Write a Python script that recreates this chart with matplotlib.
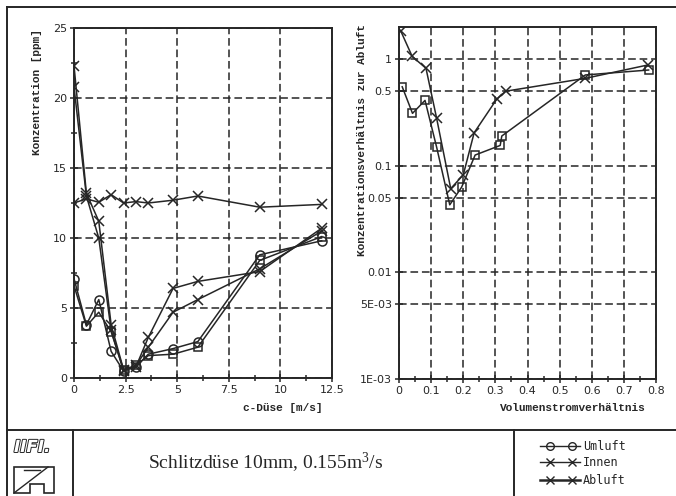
import matplotlib
matplotlib.use("Agg")
import matplotlib.pyplot as plt
import matplotlib.patheffects as pe
import matplotlib.ticker as mticker
from matplotlib.lines import Line2D
from matplotlib.patches import Polygon
import numpy as np

# ---------------- data ----------------
c_duese = [0.0, 0.6, 1.2, 1.8, 2.4, 3.0, 3.6, 4.8, 6.0, 9.0, 12.0]
umluft_a = [7.1, 3.8, 5.6, 1.9, 0.5, 0.8, 1.7, 2.1, 2.6, 8.8, 9.8]
umluft_b = [6.6, 3.7, 4.7, 3.3, 0.6, 0.9, 1.6, 1.7, 2.2, 8.4, 10.1]
innen_a = [22.3, 13.2, 11.2, 3.8, 0.6, 0.8, 2.9, 6.4, 6.9, 7.6, 10.7]
innen_b = [20.8, 13.0, 10.0, 3.4, 0.5, 0.9, 2.2, 4.7, 5.6, 7.8, 10.5]
abluft = [12.5, 12.8, 12.55, 13.1, 12.5, 12.6, 12.5, 12.7, 13.0, 12.2, 12.4]

vol_umluft = [0.01, 0.042, 0.081, 0.117, 0.158, 0.195, 0.237, 0.315, 0.32, 0.58, 0.777]
ratio_umluft = [0.55, 0.31, 0.41, 0.15, 0.043, 0.063, 0.126, 0.155, 0.19, 0.71, 0.79]
vol_innen = [0.006, 0.041, 0.084, 0.117, 0.161, 0.2, 0.234, 0.304, 0.332, 0.58, 0.774]
ratio_innen = [1.82, 1.06, 0.82, 0.28, 0.061, 0.082, 0.204, 0.42, 0.50, 0.66, 0.88]

left_xticks = [0, 2.5, 5, 7.5, 10, 12.5]
left_xlabels = ["0", "2.5", "5", "7.5", "10", "12.5"]
left_yticks = [0, 5, 10, 15, 20, 25]
right_xticks = [0, 0.1, 0.2, 0.3, 0.4, 0.5, 0.6, 0.7, 0.8]
right_yticks = [1e-3, 5e-3, 0.01, 0.05, 0.1, 0.5, 1]
right_ylabels = ["1E-03", "5E-03", "0.01", "0.05", "0.1", "0.5", "1"]

legend_labels = ["Umluft", "Innen", "Abluft"]
title = "Schlitzdüse 10mm, 0.155m$^3$/s"

# ---------------- layout ----------------
plt.rcParams["mathtext.fontset"] = "custom"
plt.rcParams["mathtext.rm"] = "Liberation Serif"
plt.rcParams["mathtext.default"] = "rm"

W, H = 676, 496
fig = plt.figure(figsize=(W / 100, H / 100), dpi=100)
fig.patch.set_facecolor("white")

def fx(x):
    return x / W

def fy(y):
    return 1 - y / H

INK = "#262626"
LBLFONT = dict(family="Liberation Mono", size=8, color=INK, weight="bold")
grid_kw = dict(color=INK, linestyle=(0, (5, 2.5)), linewidth=1.1)

def style_axes(ax):
    for s in ax.spines.values():
        s.set_linewidth(1.4)
        s.set_color(INK)
    ax.tick_params(which="both", direction="inout", colors=INK, width=1.1,
                   labelsize=8, pad=2)
    ax.tick_params(which="major", length=6)
    ax.tick_params(which="minor", length=5)
    ax.tick_params(top=False, right=False)
    for lab in ax.get_xticklabels() + ax.get_yticklabels():
        lab.set_family("DejaVu Sans")

# left panel
axL = fig.add_axes([fx(74), fy(378), (332 - 74) / W, (378 - 28) / H])
line_kw = dict(color=INK, linewidth=1.1)
axL.plot(c_duese, umluft_a, marker="o", ms=6.5, mfc="none", mec=INK, mew=1.1, **line_kw)
axL.plot(c_duese, umluft_b, marker="s", ms=5.5, mfc="none", mec=INK, mew=1.1, **line_kw)
axL.plot(c_duese, innen_a, marker="x", ms=6.5, mew=1.1, **line_kw)
axL.plot(c_duese, innen_b, marker="x", ms=6.5, mew=1.1, **line_kw)
axL.plot(c_duese, abluft, marker="x", ms=6.5, mew=1.1, **line_kw)
axL.set_xlim(0, 12.5)
axL.set_ylim(0, 25)
axL.set_xticks(left_xticks)
axL.set_xticklabels(left_xlabels)
axL.set_xticks(np.arange(1.25, 12.5, 2.5), minor=True)
axL.set_yticks(left_yticks)
axL.set_yticks(np.arange(2.5, 25, 5), minor=True)
axL.grid(True, which="major", **grid_kw)
style_axes(axL)

# right panel
axR = fig.add_axes([fx(399), fy(379), (656 - 399) / W, (379 - 27) / H])
axR.plot(vol_umluft, ratio_umluft, marker="s", ms=6, mfc="none", mec=INK, mew=1.1, **line_kw)
axR.plot(vol_innen, ratio_innen, marker="x", ms=6.5, mew=1.1, **line_kw)
axR.set_yscale("log")
axR.set_xlim(0, 0.8)
axR.set_ylim(1e-3, 2.0)
axR.set_xticks(right_xticks)
axR.set_xticklabels(["0"] + [f"{v:.1f}" for v in right_xticks[1:]])
axR.set_xticks(np.arange(0.05, 0.8, 0.1), minor=True)
axR.set_yticks(right_yticks)
axR.set_yticklabels(right_ylabels)
axR.yaxis.set_minor_locator(mticker.NullLocator())
axR.grid(True, which="major", **grid_kw)
style_axes(axR)

# axis labels
fig.text(fx(283), fy(408), "c-Düse [m/s]", ha="center", va="center", **LBLFONT)
fig.text(fx(573), fy(408), "Volumenstromverhältnis", ha="center", va="center", **LBLFONT)
fig.text(fx(37), fy(92), "Konzentration [ppm]", ha="center", va="center",
         rotation=90, **LBLFONT)
fig.text(fx(362), fy(140), "Konzentrationsverhältnis zur Abluft", ha="center",
         va="center", rotation=90, **LBLFONT)

# frame lines
def fline(xs, ys, lw=1.4):
    fig.add_artist(Line2D([fx(x) for x in xs], [fy(y) for y in ys],
                          color=INK, linewidth=lw))

fline([7, 676], [7, 7])
fline([7, 7], [7, 496])
fline([7, 676], [430, 430])
fline([73, 73], [430, 496])
fline([514, 514], [430, 496])

# title
fig.text(fx(266), fy(463), title, ha="center", va="center",
         family="Liberation Serif", size=14, color=INK)

# legend
rows = [446, 462, 480]
markers = [("o", 1.0), ("x", 1.0), ("x", 1.8)]
for y, lab, (m, lw) in zip(rows, legend_labels, markers):
    fig.add_artist(Line2D([fx(540), fx(580)], [fy(y), fy(y)], color=INK, linewidth=lw))
    fig.add_artist(Line2D([fx(550), fx(572)], [fy(y), fy(y)], linestyle="none",
                          marker=m, ms=5.5, mfc="none",
                          mec=INK, mew=1.0))
    fig.text(fx(583), fy(y), lab, ha="left", va="center",
             family="DejaVu Sans Mono", size=8.5, color=INK)

# logo
fig.text(fx(14), fy(447), "IIFI.", ha="left", va="center", family="DejaVu Sans",
         style="italic", weight="bold", size=12, color="white",
         path_effects=[pe.withStroke(linewidth=1.4, foreground=INK)])
logo = [(14, 467), (54, 467), (54, 493), (44, 493), (44, 484), (30, 484),
        (30, 493), (14, 493)]
fig.add_artist(Polygon([(fx(x), fy(y)) for x, y in logo], closed=True,
                       fill=False, edgecolor=INK, linewidth=1.2,
                       transform=fig.transFigure))
fline([14, 48], [493, 467], lw=1.0)
fline([24, 40], [470, 470], lw=1.0)

fig.savefig("out.png", dpi=100)
